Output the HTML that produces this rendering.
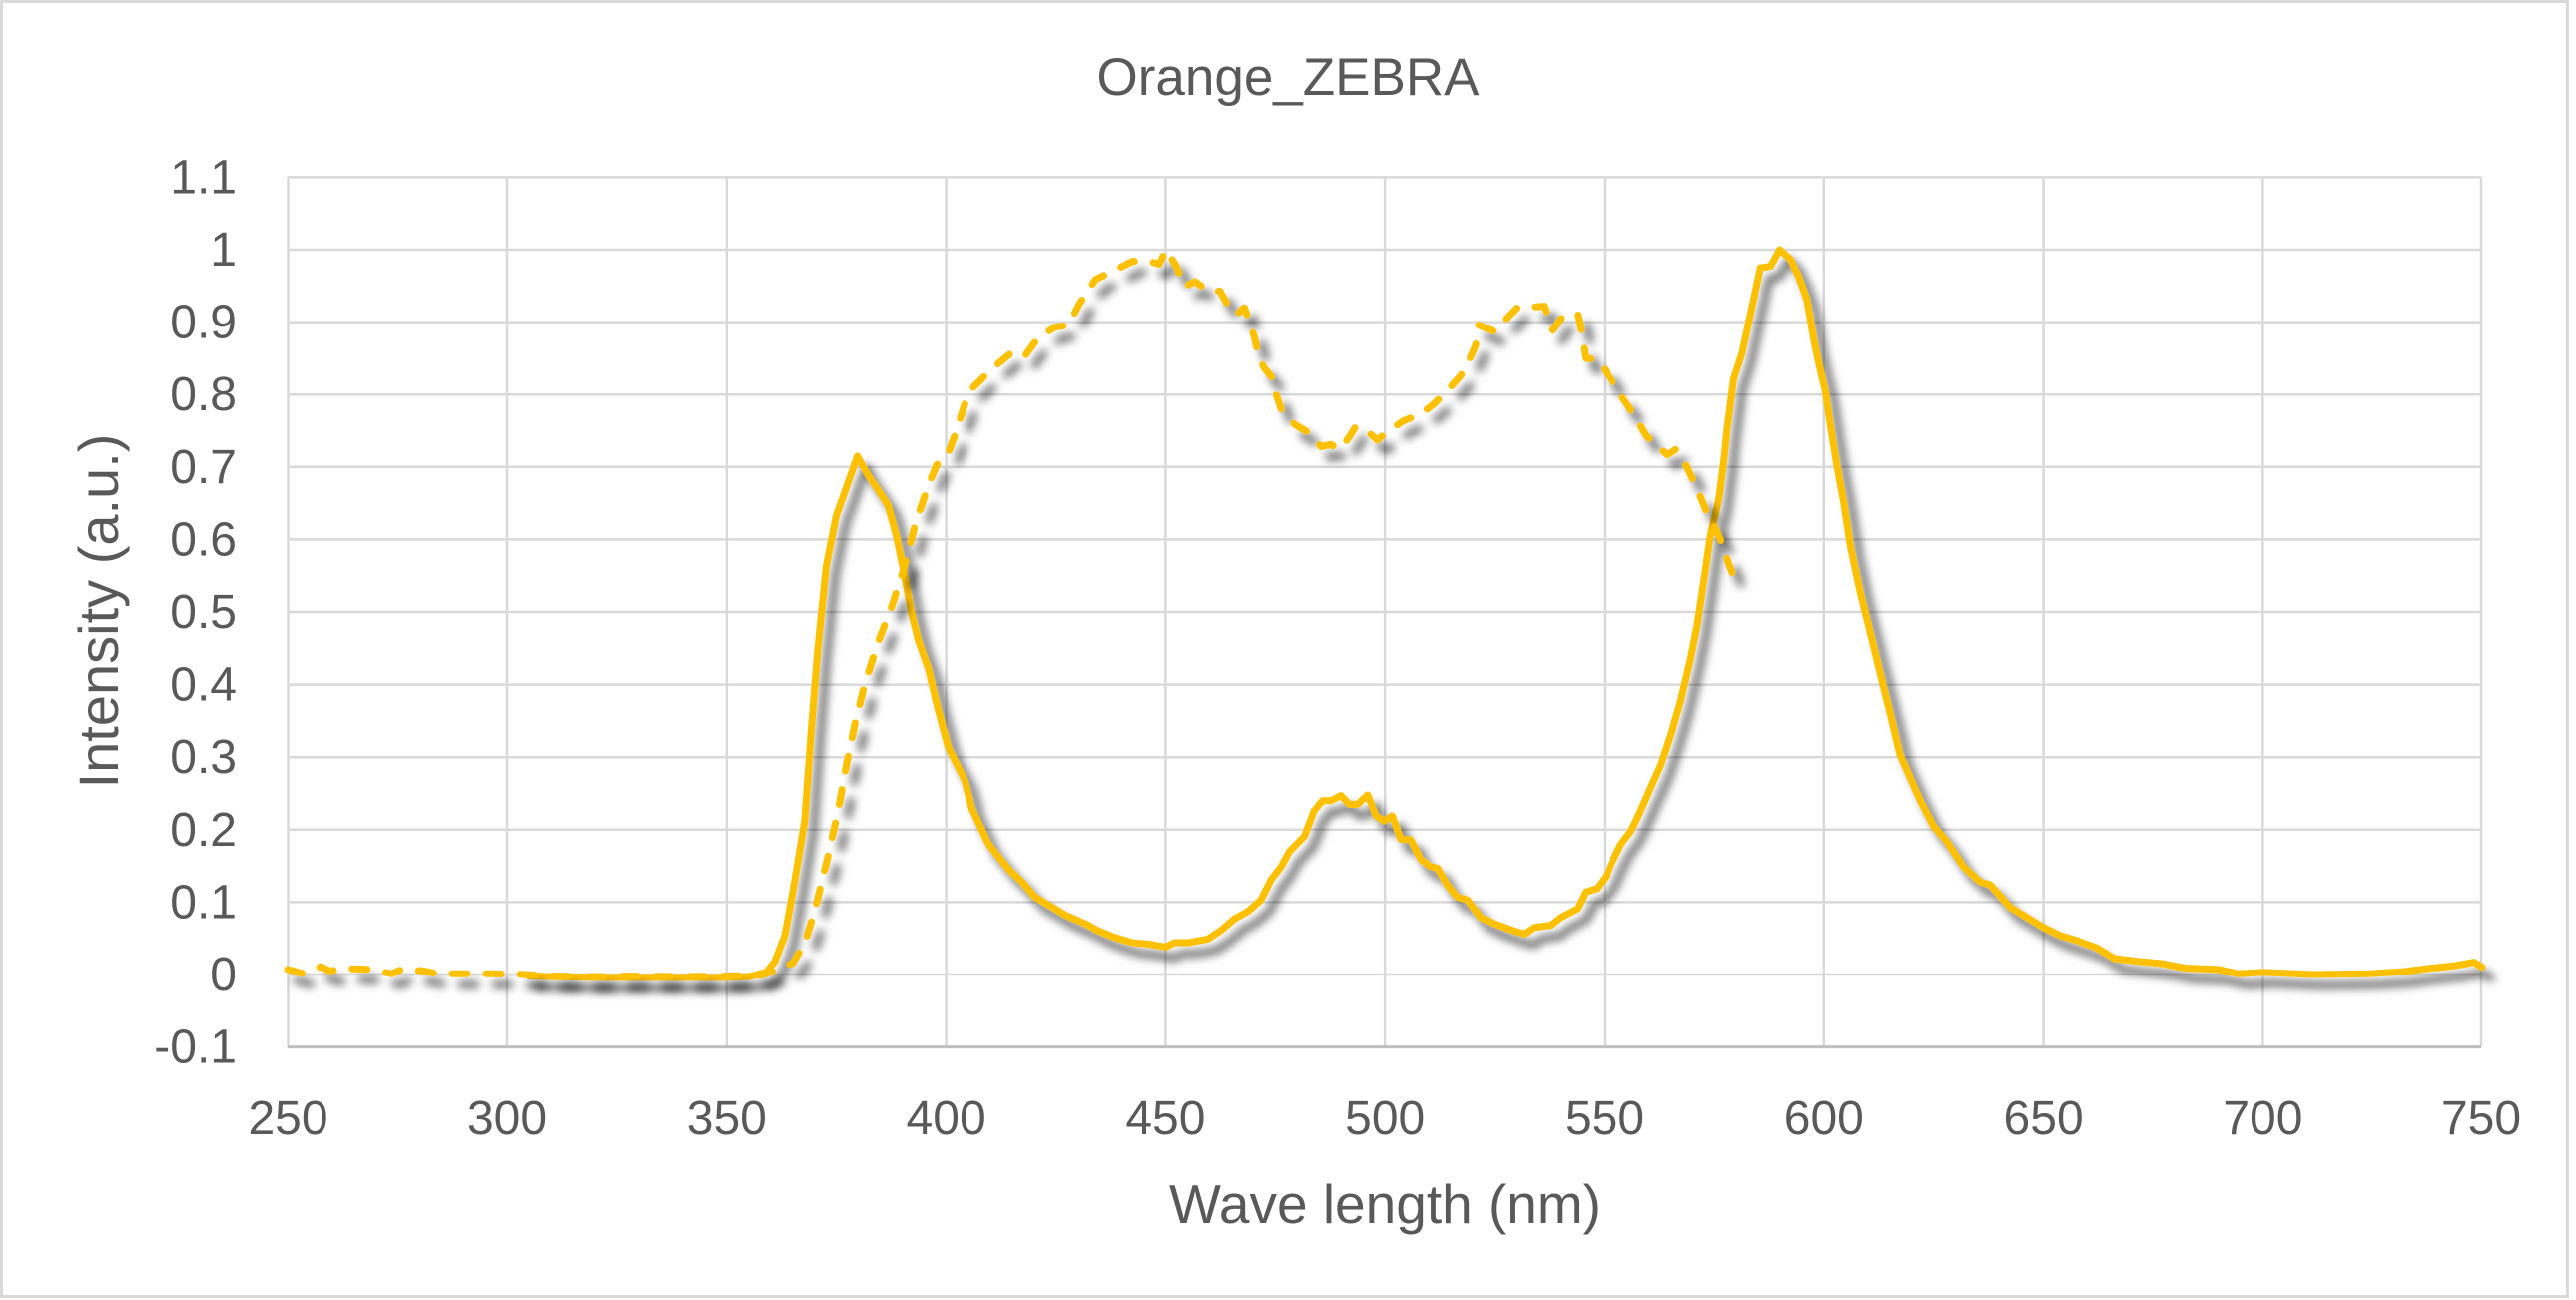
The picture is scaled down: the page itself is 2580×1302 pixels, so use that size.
<!DOCTYPE html>
<html>
<head>
<meta charset="utf-8">
<style>
  html, body { margin: 0; padding: 0; background: #ffffff; }
  body { width: 2580px; height: 1302px; overflow: hidden; }
  svg { display: block; }
  text { font-family: "Liberation Sans", "DejaVu Sans", sans-serif; fill: #595959; }
</style>
</head>
<body>
<svg width="2580" height="1302" viewBox="0 0 2580 1302" xmlns="http://www.w3.org/2000/svg">
  <defs>
    <filter id="sh" filterUnits="userSpaceOnUse" x="0" y="0" width="2580" height="1302">
      <feGaussianBlur in="SourceAlpha" stdDeviation="4.5" result="b"/>
      <feOffset in="b" dx="9" dy="11" result="o"/>
      <feFlood flood-color="#000000" flood-opacity="0.62" result="f"/>
      <feComposite in="f" in2="o" operator="in" result="s"/>
      <feMerge>
        <feMergeNode in="s"/>
        <feMergeNode in="SourceGraphic"/>
      </feMerge>
    </filter>
  </defs>

  <!-- chart area -->
  <rect x="1.5" y="1.5" width="2570" height="1297" fill="#ffffff" stroke="#d9d9d9" stroke-width="3"/>

  <!-- horizontal gridlines -->
  <g stroke="#d9d9d9" stroke-width="2.5">
    <line x1="288" y1="177.4" x2="2485" y2="177.4"/>
    <line x1="288" y1="250" x2="2485" y2="250"/>
    <line x1="288" y1="322.6" x2="2485" y2="322.6"/>
    <line x1="288" y1="395.2" x2="2485" y2="395.2"/>
    <line x1="288" y1="467.8" x2="2485" y2="467.8"/>
    <line x1="288" y1="540.4" x2="2485" y2="540.4"/>
    <line x1="288" y1="613" x2="2485" y2="613"/>
    <line x1="288" y1="685.6" x2="2485" y2="685.6"/>
    <line x1="288" y1="758.2" x2="2485" y2="758.2"/>
    <line x1="288" y1="830.8" x2="2485" y2="830.8"/>
    <line x1="288" y1="903.4" x2="2485" y2="903.4"/>
    <line x1="288" y1="976" x2="2485" y2="976"/>
  </g>
  <!-- vertical gridlines -->
  <g stroke="#d9d9d9" stroke-width="2.5">
    <line x1="288.5" y1="177.4" x2="288.5" y2="1048.6"/>
    <line x1="508" y1="177.4" x2="508" y2="1048.6"/>
    <line x1="727.8" y1="177.4" x2="727.8" y2="1048.6"/>
    <line x1="947.6" y1="177.4" x2="947.6" y2="1048.6"/>
    <line x1="1167.4" y1="177.4" x2="1167.4" y2="1048.6"/>
    <line x1="1387.2" y1="177.4" x2="1387.2" y2="1048.6"/>
    <line x1="1607" y1="177.4" x2="1607" y2="1048.6"/>
    <line x1="1826.8" y1="177.4" x2="1826.8" y2="1048.6"/>
    <line x1="2046.6" y1="177.4" x2="2046.6" y2="1048.6"/>
    <line x1="2266.4" y1="177.4" x2="2266.4" y2="1048.6"/>
    <line x1="2485" y1="177.4" x2="2485" y2="1048.6"/>
  </g>
  <!-- x axis line -->
  <line x1="288" y1="1048.6" x2="2485" y2="1048.6" stroke="#bfbfbf" stroke-width="3"/>

  <!-- solid series -->
  <g filter="url(#sh)">
    <g transform="translate(288 976) scale(4.396 -726) translate(-250 0)">
      <polyline vector-effect="non-scaling-stroke" fill="none" stroke="#FFC000" stroke-width="7" stroke-linejoin="round" stroke-linecap="round"
        points="305,-0.002 310,-0.003 320,-0.004 330,-0.004 340,-0.004 350,-0.004 355,-0.003 359,0.003 361,0.018 363.3,0.054 365.5,0.128 367.8,0.212 369.3,0.338 370.8,0.45 372.7,0.563 375,0.633 376.9,0.665 379.8,0.715 382.2,0.689 384.9,0.665 386.8,0.647 388.7,0.605 390.6,0.549 392.1,0.5 393.7,0.461 396,0.422 397.9,0.373 400.5,0.314 404.3,0.268 405.9,0.229 409.7,0.18 414.3,0.145 417.3,0.128 420.3,0.107 424.2,0.093 427.2,0.082 431.8,0.07 434.8,0.06 438.6,0.051 442.5,0.044 446.3,0.042 450,0.038 452.1,0.044 455.2,0.044 459.7,0.049 462.7,0.061 465.8,0.077 468.8,0.087 471.8,0.103 474.1,0.131 476.4,0.149 478.3,0.17 481.7,0.191 483.9,0.226 485.8,0.24 487.7,0.24 490,0.247 491.9,0.235 493.8,0.235 496.1,0.248 498,0.219 499.8,0.212 501.7,0.219 503.6,0.187 505.9,0.186 508.2,0.159 510.4,0.149 512,0.147 514.2,0.124 516.5,0.107 518.8,0.103 521.8,0.079 524.8,0.07 527.1,0.065 529.4,0.06 531.7,0.056 533.9,0.065 537.7,0.068 540,0.079 543.8,0.091 545.7,0.114 548.3,0.119 550.6,0.138 551.5,0.152 553.8,0.18 556.1,0.198 558.3,0.226 560.6,0.258 562.9,0.289 565.2,0.331 567.4,0.377 569.7,0.436 571.2,0.482 572.7,0.542 574.2,0.605 576.1,0.654 577.3,0.71 578,0.752 579.5,0.822 581.4,0.857 583.3,0.91 585.6,0.975 587.9,0.977 590,1.0 592.4,0.987 594.3,0.963 596.2,0.931 597.7,0.878 598.9,0.843 600.4,0.805 601.5,0.759 603,0.703 604.5,0.654 606.1,0.591 608.3,0.528 610.2,0.482 612.9,0.415 615.2,0.359 617.4,0.303 622,0.24 625,0.205 628,0.184 631.8,0.149 635.6,0.128 637.9,0.124 642.4,0.093 646.2,0.079 650,0.065 653.8,0.054 657.6,0.047 662.1,0.037 666.2,0.022 672,0.018 677.1,0.015 682.2,0.009 689.9,0.007 694.4,0.001 700.1,0.003 711.6,0 724.4,0.001 732.1,0.004 737.2,0.008 743.6,0.012 748.1,0.017 750,0.01"/>
    </g>
  </g>

  <!-- dashed series -->
  <g filter="url(#sh)">
    <g transform="translate(288 976) scale(4.396 -726) translate(-250 0)">
      <polyline vector-effect="non-scaling-stroke" fill="none" stroke="#FFC000" stroke-width="7" stroke-linejoin="round" stroke-linecap="round" stroke-dasharray="15 19"
        points="250,0.007 253.6,0.001 257.6,0.011 259.5,0.005 264,0.008 269,0.007 273.8,0.001 276,0.007 281,0.005 284,0.001 290,0.001 296.6,0.001 304,0 310,-0.002 320,-0.003 330,-0.002 340,-0.003 350,-0.002 358,-0.001 361.7,0.007 365.1,0.016 367.8,0.043 370,0.086 373.1,0.163 375.4,0.226 377.3,0.289 379.2,0.345 381.5,0.401 384.5,0.458 387.6,0.507 390.2,0.556 392.9,0.619 396,0.675 397.9,0.703 400.2,0.714 402.1,0.745 404.3,0.787 405.9,0.808 408.9,0.826 412,0.843 415.4,0.86 418.1,0.854 421.1,0.879 424.9,0.893 428,0.896 430.3,0.924 434.1,0.959 437.9,0.97 442.5,0.984 446.3,0.984 448.6,0.98 450.2,1.0 452.5,0.977 454.4,0.949 456.7,0.956 460.1,0.942 462.4,0.943 464.2,0.924 466.1,0.91 468,0.92 469.2,0.9 470.3,0.879 471.4,0.85 472.6,0.836 474.5,0.822 475.2,0.801 476.4,0.78 479.4,0.759 483.2,0.745 485.5,0.728 487.7,0.731 489.6,0.724 491.5,0.738 493.4,0.756 496.1,0.749 498.3,0.737 500.6,0.749 504.4,0.764 508.2,0.773 511.2,0.787 514.2,0.805 517.3,0.826 519.2,0.847 520.7,0.868 521.4,0.896 524.8,0.887 527.9,0.907 530.2,0.921 533.9,0.921 536.2,0.922 538.1,0.889 540,0.905 543.8,0.912 544.5,0.893 545.7,0.85 548.5,0.848 551.2,0.824 553.3,0.803 555.7,0.782 558,0.76 559.5,0.744 561.7,0.731 564.4,0.717 566.3,0.724 568.6,0.703 570.5,0.679 572,0.658 573.5,0.636 575.4,0.615 576.9,0.594 578.4,0.566 580.3,0.537"/>
    </g>
  </g>

  <!-- title -->
  <text x="1290" y="95" font-size="53" text-anchor="middle">Orange_ZEBRA</text>

  <!-- y tick labels -->
  <g font-size="48" text-anchor="end">
    <text x="237" y="193.4">1.1</text>
    <text x="237" y="266">1</text>
    <text x="237" y="338.6">0.9</text>
    <text x="237" y="411.2">0.8</text>
    <text x="237" y="483.8">0.7</text>
    <text x="237" y="556.4">0.6</text>
    <text x="237" y="629">0.5</text>
    <text x="237" y="701.6">0.4</text>
    <text x="237" y="774.2">0.3</text>
    <text x="237" y="846.8">0.2</text>
    <text x="237" y="919.4">0.1</text>
    <text x="237" y="992">0</text>
    <text x="237" y="1064.6">-0.1</text>
  </g>

  <!-- x tick labels -->
  <g font-size="48" text-anchor="middle">
    <text x="288.5" y="1136">250</text>
    <text x="508" y="1136">300</text>
    <text x="727.8" y="1136">350</text>
    <text x="947.6" y="1136">400</text>
    <text x="1167.4" y="1136">450</text>
    <text x="1387.2" y="1136">500</text>
    <text x="1607" y="1136">550</text>
    <text x="1826.8" y="1136">600</text>
    <text x="2046.6" y="1136">650</text>
    <text x="2266.4" y="1136">700</text>
    <text x="2485" y="1136">750</text>
  </g>

  <!-- axis titles -->
  <text x="1387" y="1225" font-size="55" text-anchor="middle">Wave length (nm)</text>
  <text transform="translate(118 612) rotate(-90)" font-size="56" text-anchor="middle">Intensity (a.u.)</text>
</svg>
</body>
</html>
